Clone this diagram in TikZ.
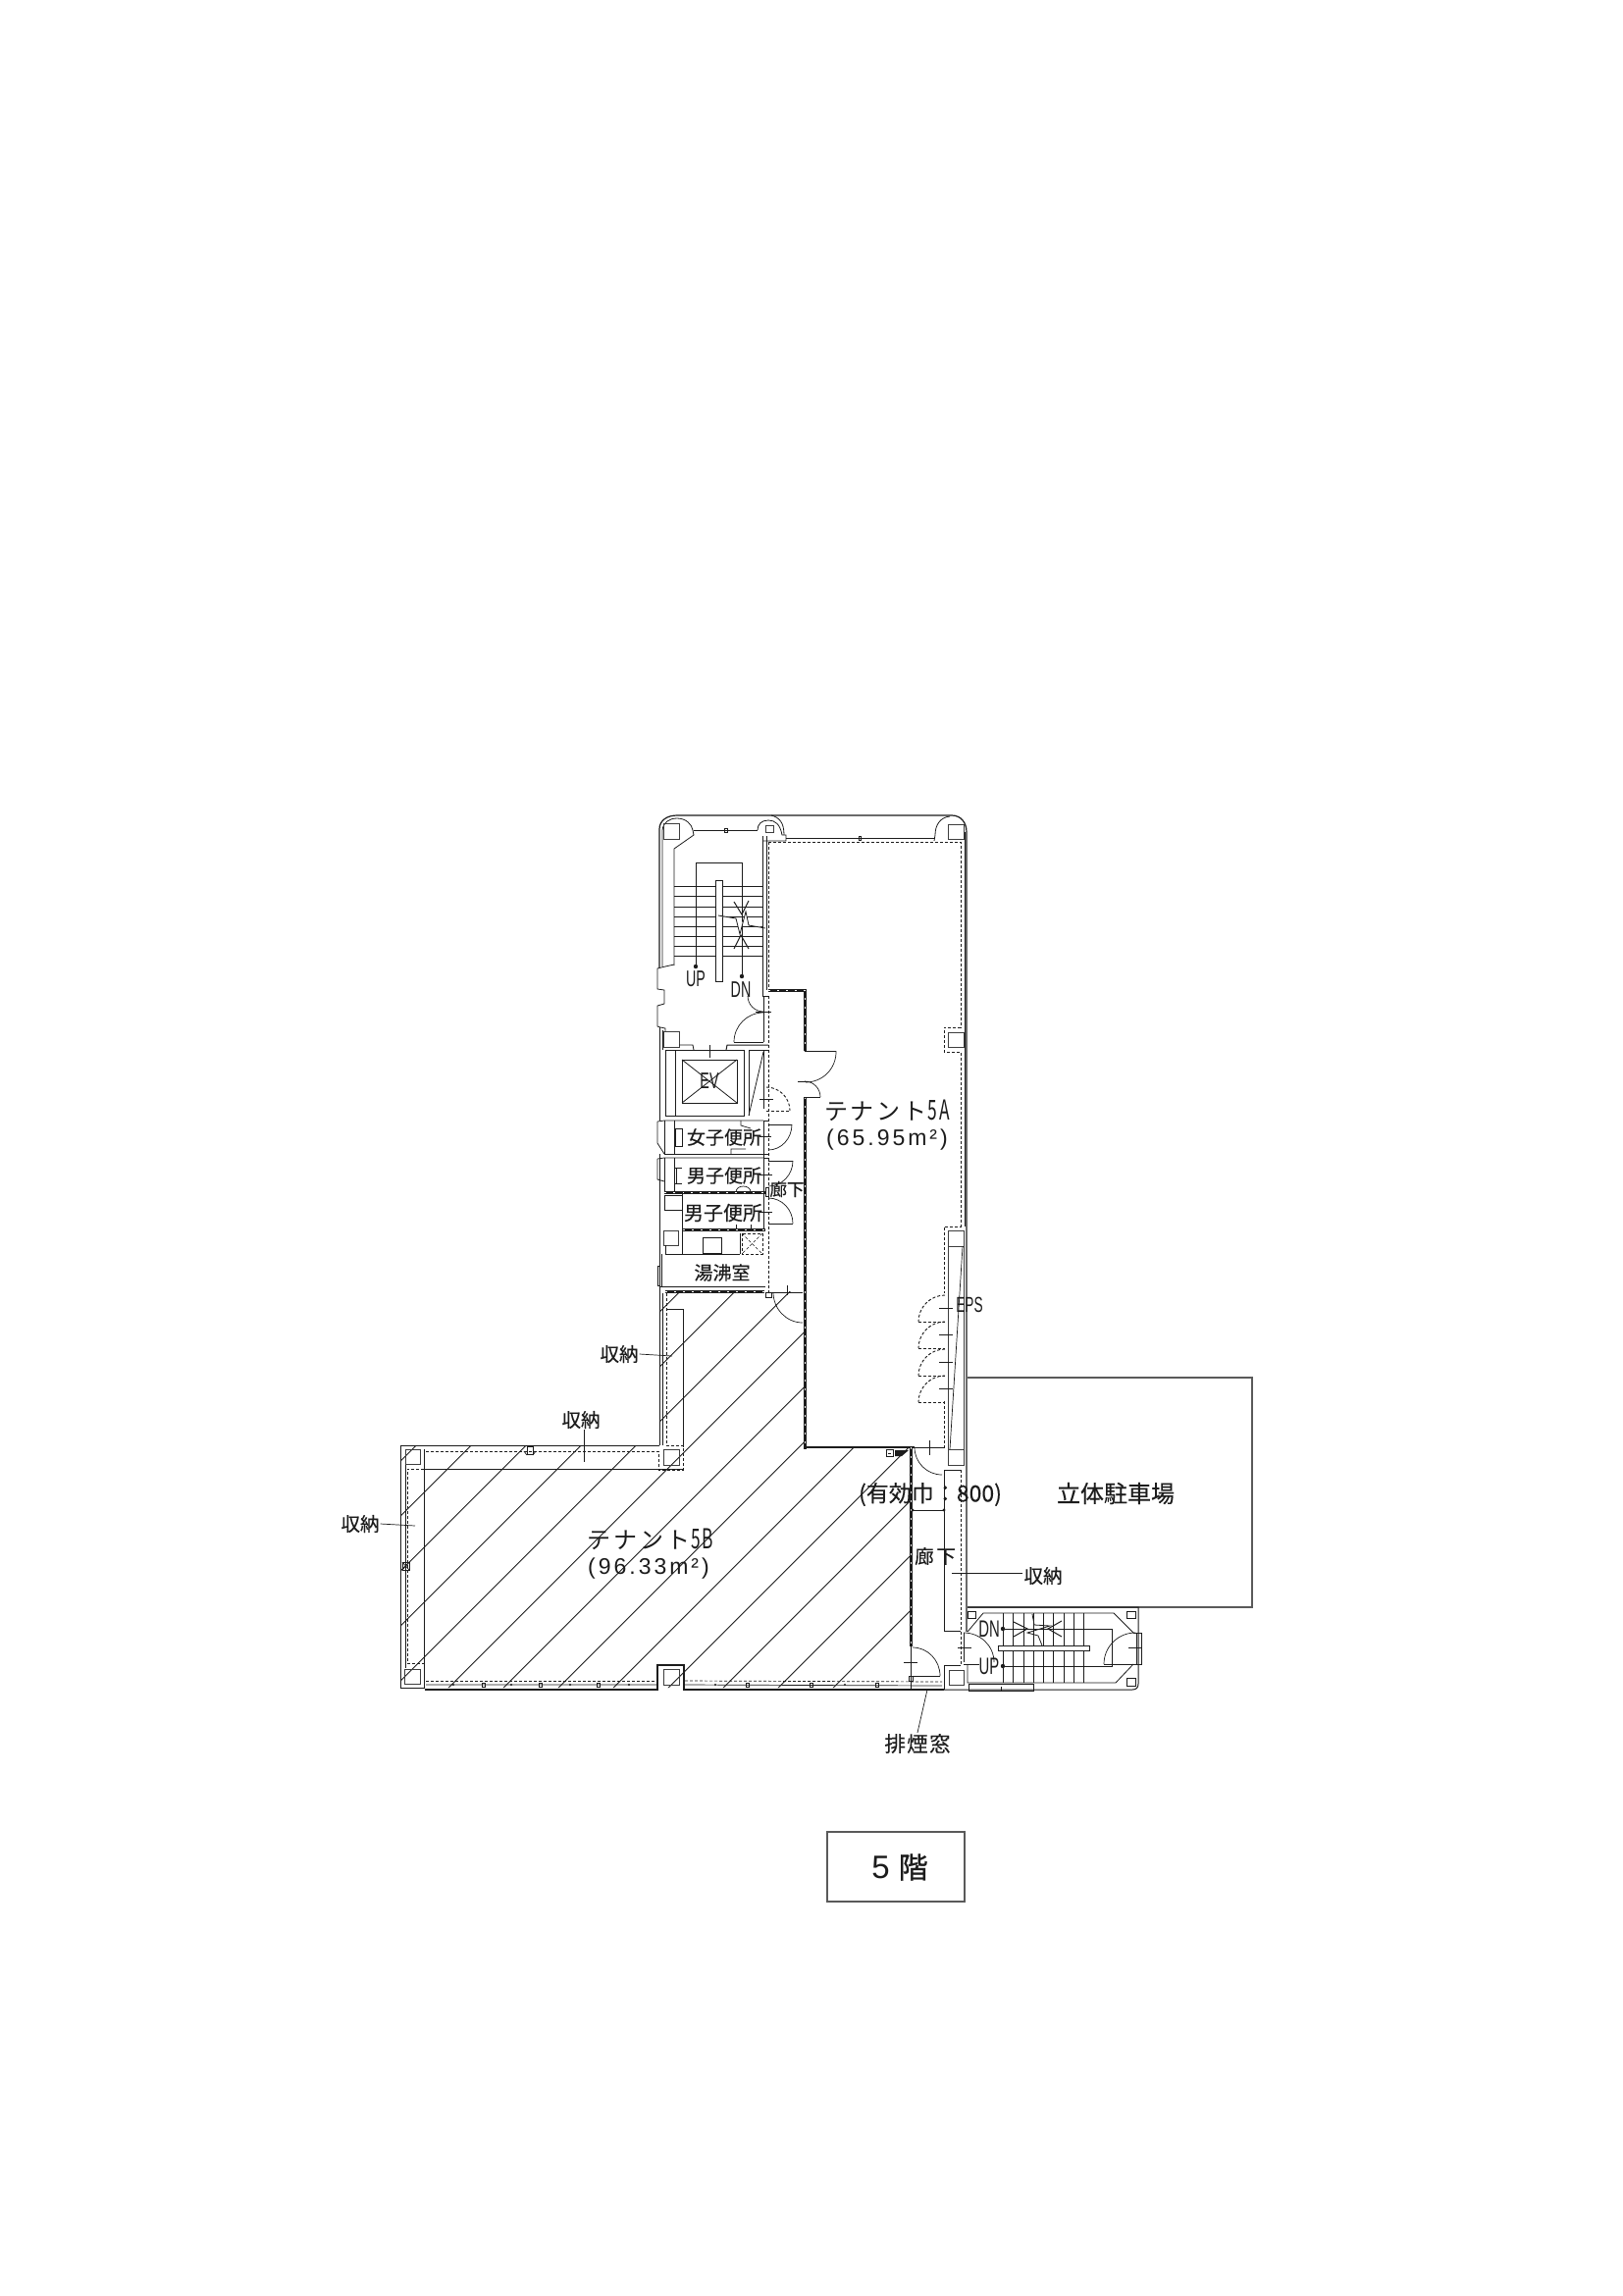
\documentclass[tikz,border=0pt]{standalone}
\usepackage{fontspec}
\usepackage{graphicx}
\setmainfont{Liberation Sans}
\newfontfamily\cjk[FakeBold=0.25]{Noto Sans CJK JP}
\newfontfamily\cjkh[FakeBold=0.9]{Noto Sans CJK JP}
\newfontfamily\cjkt{Noto Sans CJK JP}
\newfontfamily\cjkw[LetterSpace=12]{Noto Sans CJK JP}
\newfontfamily\cjks[LetterSpace=6,FakeBold=0.25]{Noto Sans CJK JP}
\newfontfamily\cjkr[LetterSpace=14,FakeBold=0.25]{Noto Sans CJK JP}
\newfontfamily\latw[LetterSpace=13]{Liberation Sans}
\newcommand{\fsz}[1]{\fontsize{#1}{#1}\selectfont}
\newcommand{\nar}[1]{\scalebox{0.62}[1]{#1}}
\definecolor{ink}{HTML}{1C1C1C}
\definecolor{boxgray}{HTML}{5A5A5A}
\tikzset{
  wl/.style={draw=ink,line width=1pt},
  colm/.style={draw=ink!85,line width=.75pt},
  tl/.style={draw=ink,line width=.8pt},
  doorl/.style={draw=ink,line width=.7pt},
  dashl/.style={draw=ink,line width=.9pt,dash pattern=on 3pt off 2pt},
  heavy/.style={draw=ink,line width=3pt},
  heavydots/.style={draw=white,line width=1pt,dash pattern=on 2pt off 7pt},
  hatchl/.style={draw=ink,line width=.9pt},
  gbox/.style={draw=boxgray,line width=1.2pt},
  lab/.style={text=ink,inner sep=1pt},
  tread/.style={draw=ink,line width=.7pt}
}
\newcommand{\qarc}[7][doorl]{%
  \pgfmathsetmacro{\qax}{#4+0.5523*(#6-#2)}%
  \pgfmathsetmacro{\qay}{#5+0.5523*(#7-#3)}%
  \pgfmathsetmacro{\qbx}{#6+0.5523*(#4-#2)}%
  \pgfmathsetmacro{\qby}{#7+0.5523*(#5-#3)}%
  \draw[#1] (#4,#5) .. controls (\qax,\qay) and (\qbx,\qby) .. (#6,#7);}
\newcommand{\boxr}[4]{\draw[colm] (#1,#2) rectangle (#3,#4);}
\newcommand{\wallthick}[1]{\draw[heavy] #1; \draw[heavydots] #1;}
\begin{document}
\begin{tikzpicture}[x=1pt,y=-1pt]
\useasboundingbox (0,0) rectangle (1654,2340);
\fill[white] (0,0) rectangle (1654,2340);

% ---------- hatching of tenant 5B
\begin{scope}
\clip (408,1473) -- (672,1473) -- (672,1316) -- (819,1316) -- (819,1475) -- (928,1475)
      -- (928,1720) -- (408,1720) -- cycle;
\foreach \i in {0,...,12}{
  \pgfmathsetmacro{\K}{1897.3+56*\i}
  \pgfmathsetmacro{\ya}{\K-400}
  \pgfmathsetmacro{\yb}{\K-940}
  \draw[hatchl] (400,\ya) -- (940,\yb);
}
\end{scope}

% ---------- outer shell of the north block
\draw[wl,line width=1.2pt] (672,986) -- (672,845) .. controls (672,836) and (680,831) .. (690,831)
   -- (970,831) .. controls (979,831) and (985,838) .. (985,848) -- (985,1663);
\draw[tl] (675,985) -- (675,846) .. controls (676,838) and (682,834) .. (690,834)
   .. controls (699,834) and (705,840) .. (706,846) -- (707,851) -- (687,865) -- (687,984);
\draw[tl] (983,848) -- (983,1250);
% stair windows
\draw[tl] (707,846) -- (772,846);
\draw[tl] (738,844) rectangle (741,848);
\draw[tl] (772,846) .. controls (772,840) and (776,836) .. (783,836)
   .. controls (790,836) and (795,840) .. (797,851) -- (801,851) -- (801,857) -- (777,857);
\draw[tl] (786,831) .. controls (794,833) and (799,838) .. (799,851);
\draw[tl] (801,854) -- (952,854);
\draw[tl] (875,852) rectangle (877,856);
\draw[tl] (952,857) -- (953,851) .. controls (953,841) and (958,833) .. (968,832);
% north columns
\boxr{676}{839}{692}{855}
\boxr{780}{841}{788}{848}
\boxr{966}{840}{982}{855}
\boxr{966}{1052}{982}{1067}

% ---------- tenant 5A boundary
\draw[dashl] (783,858) -- (979,858) -- (979,1047) -- (962,1047) -- (962,1072) -- (979,1072)
   -- (979,1250) -- (962,1250) -- (962,1318);
\draw[dashl] (962,1428) -- (962,1476);
\draw[dashl] (783,858) -- (783,1009);
\draw[tl] (777,852) -- (777,1015);
\draw[tl] (777,1015) -- (783,1015);
\draw[tl] (781,852) -- (781,1009);

% ---------- north stair
\draw[tread] (687,903) -- (777,903) (687,913) -- (777,913) (687,924) -- (777,924)
  (687,934) -- (777,934) (687,944) -- (777,944) (687,954) -- (777,954)
  (687,964) -- (777,964) (687,974) -- (777,974);
\draw[fill=white,tl] (729,897) rectangle (736,1000);
\draw[wl] (709,985) -- (709,879) -- (756,879) -- (756,995);
\fill[ink] (709,985) circle (2.2pt) (756,995) circle (2.2pt);
\draw[wl] (748,919) -- (756,932) -- (763,918);
\draw[wl] (748,967) -- (755,953) -- (763,967);
\draw[tl,fill=white] (732,933) -- (750,936) -- (754,952) -- (760,929) -- (763,943) -- (780,946);

% landing west wall
\draw[tl] (687,983) -- (678,985) -- (670,987) -- (670,1008) -- (677,1009) -- (677,1023)
  -- (670,1025) -- (670,1046) -- (673,1047) -- (678,1048) -- (678,1051);
\draw[wl] (672,1047) -- (672,1142);
\draw[tl] (675,1050) -- (675,1070);
\boxr{676}{1051}{692}{1067}
\draw[tl] (692,1065) -- (706,1065) -- (707,1070);
\draw[wl] (740,1070) -- (741,1065) -- (783,1065);
\draw[tl] (723,1065) -- (723,1078);
% landing doors
\draw[tl] (778,1015) -- (778,1062);
\qarc{778}{1015}{762}{1015}{778}{1031}
\qarc{778}{1062}{778}{1032}{748}{1062}
\draw[tl] (748,1062) -- (778,1062);
\draw[tl] (770,1031) -- (786,1031);

% ---------- elevator
\draw[tl] (678,1070) rectangle (758,1137);
\draw[tl] (688,1070) -- (688,1137);
\draw[tl] (695,1080) rectangle (751,1124);
\draw[tl] (695,1080) -- (751,1124) (751,1080) -- (695,1124);
\draw[tl] (763,1070) -- (763,1137);
\draw[tl] (778,1070) -- (778,1130);
\draw[tl] (763,1070) -- (783,1070);
\draw[tl] (778,1072) -- (763,1137);

% ---------- corridor east of core
\draw[dashl] (783,1015) -- (783,1317);
\wallthick{(783,1009) -- (820,1009) -- (820,1071)}
\wallthick{(820,1118) -- (820,1477)}
\draw[tl] (820,1071) -- (852,1071);
\qarc{820}{1071}{852}{1071}{821}{1103}
\draw[tl] (820,1118) -- (836,1118);
\qarc{820}{1118}{820}{1102}{836}{1118}
\draw[tl] (813,1102) -- (823,1102);
% dashed door
\qarc[dashl]{781}{1132}{781}{1108}{805}{1132}
\draw[dashl] (781,1132) -- (805,1132);
\draw[tl] (774,1120) -- (788,1120);

% ---------- toilets
\draw[tl] (670,1143) -- (677,1142) -- (778,1142);
\draw[tl] (670,1143) -- (670,1165) -- (677,1176);
\draw[tl] (677,1142) -- (677,1176) -- (778,1176);
\draw[tl] (687,1142) -- (687,1176);
\draw[tl] (688,1150) rectangle (695,1168);
\draw[tl] (670,1181) -- (677,1180) -- (778,1180);
\draw[tl] (670,1181) -- (670,1202) -- (677,1204);
\draw[tl] (677,1180) -- (677,1215);
\draw[tl] (687,1180) -- (687,1215);
\draw[tl] (689,1190) -- (689,1206) (687,1190) -- (695,1190) (687,1206) -- (695,1206);
\draw[wl] (672,1176) -- (672,1318);
\draw[tl] (778,1142) -- (778,1252);
\draw[tl] (778,1142) -- (783,1142) (778,1176) -- (783,1176) (778,1180) -- (783,1180);
\qarc{783}{1146}{807}{1146}{783}{1172}
\draw[tl] (783,1146) -- (807,1146);
\qarc{783}{1183}{808}{1183}{783}{1209}
\draw[tl] (783,1183) -- (808,1183);
\qarc{783}{1247}{783}{1221}{808}{1247}
\draw[tl] (783,1247) -- (808,1247);
\draw[tl] (774,1158) -- (786,1158) (774,1197) -- (787,1197) (774,1235) -- (787,1235);
% inner toilet door marks
\draw[doorl] (745,1176) -- (745,1171) -- (760,1171) (755,1142) -- (755,1147) -- (765,1150);
\draw[doorl] (750,1215) .. controls (750,1207) and (765,1207) .. (765,1215);
\draw[doorl] (750,1253) -- (750,1248) (765,1253) -- (765,1248);
\wallthick{(677,1215) -- (780,1215)}
\draw[fill=white,tl] (780,1210) rectangle (783,1219);
\draw[tl] (677,1218) rectangle (695,1233);
\draw[tl] (695,1215) -- (695,1278);
\wallthick{(696,1253) -- (780,1253)}

% ---------- pantry
\boxr{676}{1254}{691}{1269}
\draw[tl] (678,1269) -- (678,1278) -- (754,1278);
\draw[tl] (754,1257) -- (754,1278);
\draw[doorl] (716,1261) rectangle (735,1277);
\draw[dashl,line width=.6pt] (756,1257) rectangle (777,1278);
\draw[dashl,line width=.5pt] (756,1257) -- (777,1278) (777,1257) -- (756,1278);
\draw[tl] (670,1290) rectangle (672,1310);
\draw[tl] (674,1278) -- (674,1312);
\wallthick{(678,1316) -- (779,1316)}
\draw[tl] (672,1311) -- (780,1311);
\draw[tl] (780,1317) -- (818,1317);
\draw[tl] (780,1317) rectangle (786,1322);
\qarc{818}{1317}{788}{1317}{818}{1348}
\draw[tl] (802,1310) -- (802,1320);

% ---------- storage along north wing of 5B
\draw[wl] (672,1315) -- (672,1473);
\draw[tl] (675,1318) -- (675,1473);
\draw[dashl] (679,1318) -- (679,1473);
\draw[tl] (679,1334) -- (696,1334) -- (696,1475);
\draw[dashl] (679,1473) -- (696,1473) -- (696,1498) -- (671,1498) -- (671,1479) -- (433,1479);
\boxr{676}{1477}{692}{1493}

% ---------- storage and walls of west wing
\draw[wl] (672,1473) -- (408,1473) -- (408,1720) -- (433,1720);
\draw[tl] (432,1497) -- (696,1497);
\draw[tl] (413,1492) -- (413,1700);
\draw[tl] (432,1477) -- (432,1720);
\draw[dashl] (432,1497) -- (415,1497) -- (415,1695) -- (432,1695);
\boxr{413}{1477}{428}{1492}
\boxr{412}{1701}{428}{1716}
\draw[doorl] (537,1474) rectangle (543,1482);
\draw[doorl] (534,1479) -- (537,1483) (543,1483) -- (546,1479);
\draw[doorl] (410,1592) rectangle (417,1600);
\draw[doorl] (410,1592) -- (417,1600) (417,1592) -- (410,1600);

% ---------- south wall
\draw[wl,line width=1.2pt] (433,1722) -- (670,1722) -- (670,1697) -- (697,1697) -- (697,1722) -- (962,1722);
\draw[dashl,line width=.7pt] (434,1713) -- (670,1713);
\draw[dashl,line width=.7pt] (698,1713) -- (960,1714);
\draw[doorl] (434,1717) -- (670,1717) (698,1717) -- (960,1718);
\foreach \xx in {493,551,610,762,827,894}{\draw[doorl] (\xx-1.5,1715) rectangle (\xx+1.5,1719);}
\foreach \xx in {462,521,581,641,729,861}{\fill[ink] (\xx,1717) circle (1.1pt);}
\boxr{676}{1701}{692}{1717}

% ---------- corridor and 5A south edge
\draw[wl,line width=1.3pt] (820,1475) -- (932,1475);
\draw[tl] (932,1475) -- (962,1475);
\wallthick{(928,1475) -- (928,1678)}
\draw[tl] (928,1678) -- (928,1722);
\draw[tl] (926,1708) rectangle (930,1713);
\qarc{960}{1475}{932}{1475}{960}{1503}
\draw[tl] (947,1468) -- (947,1483);
\qarc{930}{1708}{930}{1679}{958}{1708}
\draw[tl] (930,1708) -- (958,1708);
\draw[tl] (921,1694) -- (935,1694);
% fixture in the corner of the corridor
\draw[doorl] (903,1477) rectangle (910,1484);
\draw[doorl] (905,1481) -- (908,1481);
\fill[ink] (912,1478) -- (926,1478) -- (919,1484) -- (912,1484) -- cycle;

% ---------- EPS
\draw[colm] (966,1254) rectangle (982,1493);
\draw[colm] (966,1270) -- (982,1270) (966,1477) -- (982,1477);
\draw[doorl] (981,1270) -- (968,1477);
\foreach \yy in {1347,1374,1402,1429}{
  \pgfmathsetmacro{\ytop}{\yy-27}
  \qarc[dashl]{963}{\yy}{963}{\ytop}{936}{\yy}
  \draw[dashl] (936,\yy) -- (963,\yy);
  \pgfmathsetmacro{\ytick}{\yy-14}
  \draw[doorl] (957,\ytick) -- (971,\ytick);
}

% ---------- storage by the corridor
\draw[dashl] (979,1498) -- (979,1697);
\draw[wl] (962,1498) -- (979,1498);
\draw[tl] (962,1498) -- (962,1662) -- (979,1662);
\draw[wl] (930,1539) -- (962,1539);
\fill[ink] (930,1539) circle (1.6pt) (962,1539) circle (1.6pt);

% ---------- parking
\draw[gbox] (986,1404) -- (1276,1404) -- (1276,1638) -- (986,1638);

% ---------- south stair
\draw[wl] (986,1638) -- (1160,1638) -- (1160,1716) .. controls (1160,1720) and (1158,1722) .. (1154,1722) -- (962,1722);
\draw[tl] (986,1663) -- (1002,1644) -- (1135,1644) -- (1155,1664) (1155,1696) -- (1137,1715) -- (986,1715) -- (986,1697);
\draw[doorl] (1158,1664) rectangle (1163,1696);
\draw[doorl] (1155,1664) -- (1158,1664) (1155,1696) -- (1158,1696);
\foreach \xx in {1022,1032,1043,1053,1063,1073,1084,1094,1104}{\draw[tread] (\xx,1644) -- (\xx,1715);}
\draw[fill=white,doorl] (1017,1677) rectangle (1110,1682);
\draw[wl] (1022,1660) -- (1133,1660) -- (1133,1698) -- (1022,1698);
\fill[ink] (1022,1660) circle (2.2pt) (1022,1698) circle (2.2pt);
\draw[wl] (1033,1653) -- (1047,1660) -- (1033,1668);
\draw[wl] (1082,1652) -- (1068,1660) -- (1082,1668);
\draw[tl] (1052,1645) -- (1054,1656) -- (1070,1657) -- (1047,1664) -- (1058,1667) -- (1062,1677);
\draw[doorl] (986,1642) rectangle (994,1649);
\draw[doorl] (1148,1642) rectangle (1157,1649);
\draw[doorl] (1148,1710) rectangle (1157,1718);
\draw[doorl] (987,1716) rectangle (1053,1723);
\draw[doorl] (1020,1719) -- (1020,1723);
% south stair doors
\draw[tl] (982,1664) -- (982,1694);
\qarc{982}{1694}{982}{1664}{1013}{1694}
\draw[tl] (982,1696) -- (998,1696);
\draw[doorl] (976,1679) -- (990,1679);
\qarc{1157}{1696}{1157}{1664}{1125}{1696}
\draw[doorl] (1125,1696) -- (1157,1696);
\draw[doorl] (1150,1679) -- (1164,1679);
\draw[tl] (962,1697) -- (979,1697);
\draw[tl] (962,1697) -- (962,1722);
\boxr{967}{1702}{982}{1717}

% ---------- labels
\node[lab] (t5a) at (904,1132) {\fsz{24}\cjkw テナント\fsz{28}\hspace{1pt}\nar{5A}};
\node[lab] (a5a) at (904,1162) {\fsz{23}\latw (65.95m²)};
\node[lab] (t5b) at (663,1569) {\fsz{24}\cjkw テナント\fsz{28}\hspace{1pt}\nar{5B}};
\node[lab] (a5b) at (661,1599) {\fsz{23}\latw (96.33m²)};
\node[lab] (up1) at (709,998) {\fsz{23}\nar{UP}};
\node[lab] (dn1) at (755,1009) {\fsz{23}\nar{DN}};
\node[lab] (up2) at (1008,1698) {\fsz{24}\nar{UP}};
\node[lab] (dn2) at (1008,1660) {\fsz{24}\nar{DN}};
\node[lab] (ev) at (723,1102) {\fsz{23}\nar{EV}};
\node[lab] (eps) at (988,1330) {\fsz{22}\nar{EPS}};
\node[lab] (wc1) at (738,1159) {\fsz{19}\cjk 女子便所};
\node[lab] (wc2) at (738,1198) {\fsz{19}\cjk 男子便所};
\node[lab] (wc3) at (737,1236) {\fsz{20}\cjk 男子便所};
\node[lab] (yuw) at (736,1297) {\fsz{19}\cjk 湯沸室};
\node[lab] (rk1) at (802,1212) {\fsz{17.5}\cjk 廊下};
\node[lab] (rk2) at (953,1586) {\fsz{19.5}\cjkr 廊下};
\node[lab] (wid) at (948,1523) {\fsz{23}\cjk (有効巾：800)};
\node[lab] (pkg) at (1137,1522) {\fsz{24}\cjk 立体駐車場};
\node[lab] (smk) at (935,1777) {\fsz{21.5}\cjks 排煙窓};
\node[lab] (fl) at (917,1903) {\fsz{33}5\hspace{9pt}\fsz{30}\cjkh 階};
\node[lab] (s1) at (631,1380) {\fsz{19.5}\cjk 収納};
\node[lab] (s2) at (592,1447) {\fsz{19.5}\cjk 収納};
\node[lab] (s3) at (367,1553) {\fsz{19.5}\cjk 収納};
\node[lab] (s4) at (1063,1606) {\fsz{19.5}\cjk 収納};
\coordinate (s1e) at (685,1382);
\coordinate (s2e) at (595,1490);
\coordinate (s3e) at (423,1555);
\coordinate (s4e) at (970,1603);
\coordinate (smke) at (945,1722);
\draw[doorl] (s1.east) -- (s1e);
\draw[doorl] (s2.south) ++(3,0) -- (s2e);
\draw[doorl] (s3.east) -- (s3e);
\draw[doorl] (s4.west) ++(0,-3) -- (s4e);
\draw[doorl] (smk.north) -- (smke);
% floor box
\draw[gbox] (843,1867) rectangle (983,1938);
\end{tikzpicture}
\end{document}
